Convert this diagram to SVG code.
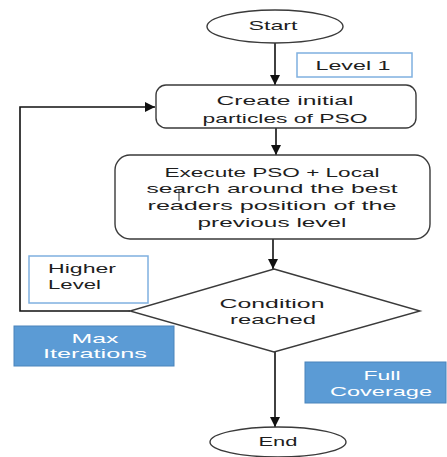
<svg xmlns="http://www.w3.org/2000/svg" width="447" height="457" viewBox="0 0 447 457">
<style>
  .node { fill: #ffffff; stroke: #3a3a3a; stroke-width: 1.4; }
  .note { fill: #ffffff; stroke: #7fb0e0; stroke-width: 1.5; }
  .blue { fill: #5b9bd5; stroke: #4a84bb; stroke-width: 1; }
  .t { font-family: "Liberation Sans", Arial, sans-serif; font-size: 13.5px; fill: #1e1e1e; }
  .w { font-family: "Liberation Sans", Arial, sans-serif; font-size: 13.5px; fill: #ffffff; }
  .c { text-anchor: middle; }
  .conn { fill: none; stroke: #111111; stroke-width: 1.6; }
</style>
<defs>
  <marker id="ah" markerUnits="userSpaceOnUse" markerWidth="11" markerHeight="10" refX="10" refY="5" orient="auto">
    <path d="M0,0 L10,5 L0,10 z" fill="#111111"/>
  </marker>
</defs>
<rect width="447" height="457" fill="#ffffff"/>

<g id="connectors">
  <path class="conn" d="M275,43 V85" marker-end="url(#ah)"/>
  <path class="conn" d="M276,128 V155" marker-end="url(#ah)"/>
  <path class="conn" d="M273,239 V269" marker-end="url(#ah)"/>
  <path class="conn" d="M275,352 V427" marker-end="url(#ah)"/>
  <path class="conn" d="M130,311 H20 V107 H155" marker-end="url(#ah)"/>
</g>

<g id="start">
  <ellipse class="node" cx="275" cy="26.5" rx="68" ry="16.5"/>
  <text class="t c" x="273" y="30" textLength="49" lengthAdjust="spacingAndGlyphs">Start</text>
</g>

<g id="level1">
  <rect class="note" x="297" y="53" width="115" height="24"/>
  <text class="t c" x="353" y="70" textLength="75" lengthAdjust="spacingAndGlyphs">Level 1</text>
</g>

<g id="create">
  <rect class="node" x="156" y="85" width="260" height="43" rx="10" ry="10"/>
  <text class="t c" x="285" y="105" textLength="137" lengthAdjust="spacingAndGlyphs">Create initial</text>
  <text class="t c" x="285" y="123" textLength="165" lengthAdjust="spacingAndGlyphs">particles of PSO</text>
</g>

<g id="execute">
  <rect class="node" x="115" y="155" width="315" height="84" rx="15" ry="15"/>
  <text class="t c" x="272" y="177" textLength="215" lengthAdjust="spacingAndGlyphs">Execute PSO + Local</text>
  <text class="t c" x="272" y="193" textLength="251" lengthAdjust="spacingAndGlyphs">search around the best</text>
  <text class="t c" x="272" y="210" textLength="249" lengthAdjust="spacingAndGlyphs">readers position of the</text>
  <text class="t c" x="272" y="227" textLength="149" lengthAdjust="spacingAndGlyphs">previous level</text>
  <line x1="179" y1="189" x2="179" y2="201" stroke="#222" stroke-width="1"/>
</g>

<g id="higher-level">
  <rect class="note" x="29" y="256" width="119" height="47"/>
  <text class="t" x="48" y="273" textLength="68" lengthAdjust="spacingAndGlyphs">Higher</text>
  <text class="t" x="48" y="289" textLength="53" lengthAdjust="spacingAndGlyphs">Level</text>
</g>

<g id="condition">
  <polygon class="node" points="274,269 420,311 274,352 130,311"/>
  <text class="t c" x="272" y="308" textLength="105" lengthAdjust="spacingAndGlyphs">Condition</text>
  <text class="t c" x="273" y="324" textLength="86" lengthAdjust="spacingAndGlyphs">reached</text>
</g>

<g id="max-iterations">
  <rect class="blue" x="14" y="326" width="160" height="40"/>
  <text class="w c" x="95" y="343" textLength="47" lengthAdjust="spacingAndGlyphs">Max</text>
  <text class="w c" x="95" y="358" textLength="104" lengthAdjust="spacingAndGlyphs">Iterations</text>
</g>

<g id="full-coverage">
  <rect class="blue" x="305" y="362" width="141" height="41"/>
  <text class="w c" x="382" y="380" textLength="37" lengthAdjust="spacingAndGlyphs">Full</text>
  <text class="w c" x="381" y="396" textLength="102" lengthAdjust="spacingAndGlyphs">Coverage</text>
</g>

<g id="end">
  <ellipse class="node" cx="278" cy="442" rx="68" ry="15"/>
  <text class="t c" x="278" y="446" textLength="39" lengthAdjust="spacingAndGlyphs">End</text>
</g>
</svg>
